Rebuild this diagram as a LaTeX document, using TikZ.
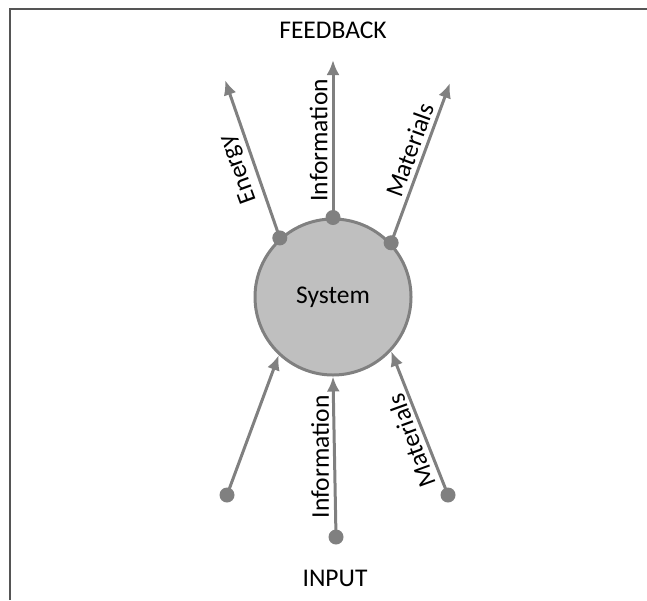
\documentclass[tikz,border=0pt]{standalone}
\usepackage{fontspec}
\setmainfont{Carlito}
\usetikzlibrary{arrows.meta}
\definecolor{ln}{HTML}{808080}
\definecolor{fl}{HTML}{BFBFBF}
\definecolor{fr}{HTML}{555555}
\begin{document}
\begin{tikzpicture}[x=1pt,y=-1pt,
  arr/.style={draw=ln,line width=3pt,-{Latex[length=15pt,width=13pt]}},
  dot/.style={circle,fill=ln,inner sep=0pt,minimum size=15pt},
  lbl/.style={font=\fontsize{25.5}{30}\selectfont,inner sep=4pt,anchor=south},
  txt/.style={font=\fontsize{25.5}{30}\selectfont,inner sep=0pt}]
\useasboundingbox (0,0) rectangle (647,600);
\draw[fr,line width=1.5pt] (10,600) -- (10,9) -- (647,9);
\node[circle,draw=ln,fill=fl,line width=3pt,minimum size=156pt,inner sep=0pt,txt] (sys) at (333,297) {System};
% top dots
\node[dot] (ed) at (sys.132) {};
\node[dot] (id) at (sys.90) {};
\node[dot] (md) at (sys.43) {};
\coordinate (et) at (225,80);
\coordinate (it) at (333,60);
\coordinate (mt) at (450,83);
\draw[arr] (ed.center) -- node[lbl,rotate=110,pos=0.47] {Energy} (et);
\draw[arr] (id.center) -- node[lbl,rotate=90,pos=0.49] {Information} (it);
\draw[arr] (md.center) -- node[lbl,rotate=70,pos=0.55] {Materials} (mt);
% bottom dots
\node[dot] (b1) at (227,495) {};
\node[dot] (b2) at (336,537) {};
\node[dot] (b3) at (448,495) {};
\draw[arr] (b1.center) -- (sys.227);
\draw[arr] (b2.center) -- node[lbl,rotate=90,pos=0.5] {Information} (sys.270);
\draw[arr] (b3.center) -- node[lbl,rotate=110,pos=0.41] {Materials} (sys.317);
\node[txt] (fb) at (333,30) {FEEDBACK};
\node[txt] (in) at (335,578) {INPUT};
\end{tikzpicture}
\end{document}
